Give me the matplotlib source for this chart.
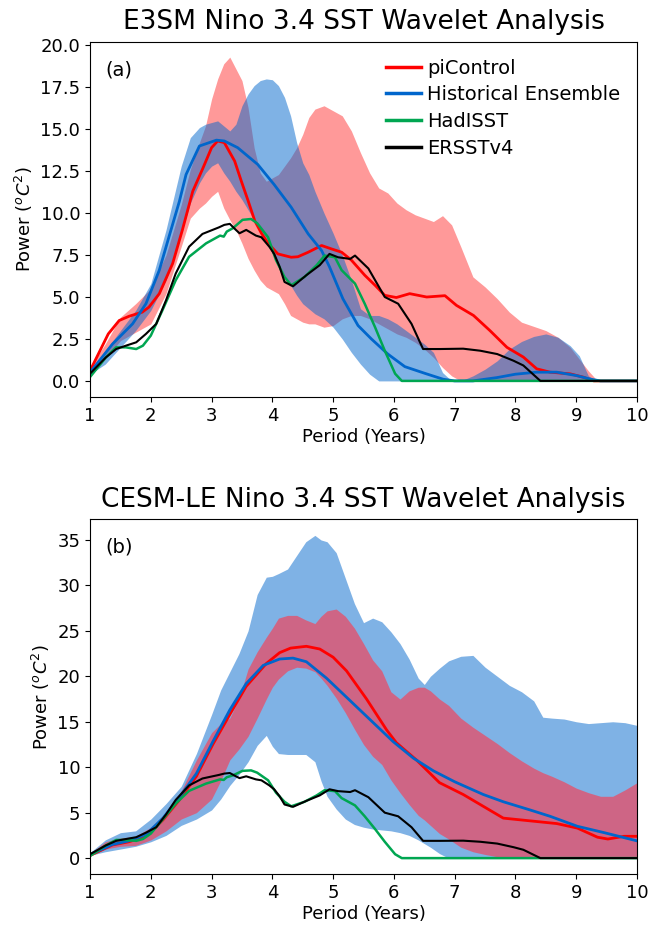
import matplotlib
matplotlib.use('Agg')
import matplotlib.pyplot as plt

# ---- observations (same in both panels) ----
had_x = [1.0, 1.26, 1.43, 1.59, 1.76, 1.87, 2.0, 2.19, 2.41, 2.63, 2.91, 3.14, 3.2, 3.25, 3.35, 3.51, 3.65,
         3.75, 3.93, 4.06, 4.2, 4.31, 4.53, 4.73, 4.86, 5.03, 5.14, 5.36, 5.52, 5.69, 5.85, 6.02, 6.13, 10.0]
had_y = [0.23, 1.4, 2.0, 2.0, 1.9, 2.1, 2.7, 4.2, 6.0, 7.4, 8.2, 8.66, 8.6, 8.9, 9.1, 9.6, 9.65,
         9.4, 8.56, 7.2, 6.2, 5.7, 6.2, 6.9, 7.47, 7.37, 6.6, 5.8, 4.6, 3.2, 1.8, 0.43, 0.0, 0.0]

ers_x = [1.0, 1.26, 1.43, 1.59, 1.76, 1.92, 2.09, 2.25, 2.41, 2.63, 2.85, 3.12, 3.21, 3.3, 3.4, 3.46, 3.57,
         3.73, 3.82, 3.95, 4.03, 4.12, 4.2, 4.34, 4.56, 4.78, 4.94, 5.08, 5.28, 5.36, 5.58, 5.85, 6.07,
         6.29, 6.48, 6.76, 7.14, 7.42, 7.7, 7.97, 8.13, 8.41, 10.0]
ers_y = [0.43, 1.4, 1.9, 2.1, 2.3, 2.8, 3.4, 4.8, 6.4, 8.0, 8.76, 9.15, 9.3, 9.36, 9.0, 8.8, 9.0,
         8.66, 8.56, 8.0, 7.57, 6.8, 5.9, 5.64, 6.3, 6.9, 7.57, 7.37, 7.27, 7.47, 6.7, 5.0, 4.6,
         3.4, 1.9, 1.9, 1.92, 1.8, 1.6, 1.2, 0.92, 0.0, 0.0]

# ---- E3SM (a) ----
e_pi_x = [1.0, 1.15, 1.3, 1.48, 1.64, 1.86, 1.97, 2.14, 2.36, 2.52, 2.69, 2.86, 3.0, 3.1, 3.21, 3.38, 3.49,
          3.6, 3.71, 3.82, 3.93, 4.09, 4.31, 4.42, 4.59, 4.81, 4.97, 5.14, 5.3, 5.52, 5.69, 5.85, 6.04,
          6.26, 6.54, 6.84, 7.03, 7.31, 7.58, 7.86, 8.13, 8.35, 8.57, 8.9, 9.12, 9.29, 10.0]
e_pi_y = [0.6, 1.7, 2.8, 3.6, 3.85, 4.1, 4.4, 5.2, 7.0, 9.0, 11.3, 12.7, 13.9, 14.3, 14.2, 13.1, 11.9,
          10.75, 9.55, 8.8, 8.2, 7.57, 7.37, 7.4, 7.67, 8.07, 7.87, 7.67, 7.2, 6.3, 5.7, 5.1, 4.97,
          5.2, 5.0, 5.08, 4.5, 3.9, 3.0, 2.0, 1.42, 0.72, 0.52, 0.42, 0.22, 0.0, 0.0]

e_hist_x = [1.0, 1.37, 1.7, 1.92, 2.14, 2.3, 2.47, 2.58, 2.8, 3.08, 3.21, 3.43, 3.76, 4.03, 4.31, 4.59,
            4.81, 4.94, 5.16, 5.41, 5.63, 5.9, 6.18, 6.51, 6.81, 7.0, 7.3, 7.7, 8.0, 8.35, 8.68, 9.0,
            9.24, 9.4, 10.0]
e_hist_y = [0.5, 2.2, 3.4, 4.6, 6.6, 8.6, 10.7, 12.3, 14.0, 14.35, 14.3, 13.9, 12.9, 11.7, 10.35, 8.76,
            7.77, 6.8, 4.9, 3.3, 2.5, 1.6, 0.85, 0.45, 0.1, 0.0, 0.0, 0.2, 0.4, 0.52, 0.52, 0.32,
            0.1, 0.0, 0.0]

e_band_x = [1.0, 1.25, 1.5, 1.75, 2.0, 2.25, 2.5, 2.65, 2.8, 2.9, 3.0, 3.1, 3.2, 3.3, 3.4, 3.5, 3.6, 3.7,
            3.8, 3.9, 4.0, 4.1, 4.2, 4.3, 4.4, 4.5, 4.6, 4.7, 4.85, 5.0, 5.15, 5.3, 5.45, 5.6, 5.75,
            5.9, 6.05, 6.2, 6.35, 6.5, 6.65, 6.8, 6.95, 7.1, 7.3, 7.5, 7.7, 7.9, 8.1, 8.3, 8.5, 8.7,
            8.9, 9.05, 9.2, 9.35, 9.5, 10.0]
e_pi_hi = [0.8, 2.2, 3.8, 4.6, 5.5, 7.5, 10.5, 12.6, 14.2, 15.2, 16.8, 18.0, 18.9, 19.3, 18.6, 17.9, 16.3,
           13.9, 12.4, 11.9, 12.1, 12.3, 12.8, 13.3, 13.9, 14.7, 15.7, 16.2, 16.4, 16.1, 15.8, 14.9,
           13.6, 12.4, 11.5, 11.2, 10.6, 10.2, 9.9, 9.7, 9.5, 9.85, 9.3, 8.0, 6.2, 5.6, 4.9, 4.1,
           3.5, 3.25, 3.0, 2.6, 2.0, 1.3, 0.6, 0.0, 0.0, 0.0]
e_pi_lo = [0.3, 1.3, 2.4, 2.9, 3.4, 5.2, 8.0, 9.7, 10.3, 10.6, 11.0, 11.3, 10.3, 9.6, 9.0, 8.2, 7.3,
           6.6, 6.0, 5.6, 5.4, 5.2, 4.6, 3.9, 3.7, 3.5, 3.4, 3.4, 3.2, 3.3, 3.7, 3.9, 3.9, 3.7, 3.4,
           3.1, 2.8, 2.6, 2.3, 1.9, 1.4, 0.8, 0.3, 0.0, 0.0, 0.0, 0.0, 0.0, 0.0, 0.0, 0.0, 0.0,
           0.0, 0.0, 0.0, 0.0, 0.0, 0.0]
e_hist_hi = [0.6, 1.8, 3.0, 4.2, 5.8, 9.0, 12.8, 14.5, 15.1, 15.3, 15.4, 15.5, 15.2, 14.9, 15.3, 16.4,
             17.1, 17.6, 17.9, 18.0, 17.95, 17.6, 16.9, 15.8, 14.2, 13.0, 12.3, 11.3, 10.0, 8.8, 7.5,
             6.0, 4.3, 3.9, 3.9, 3.7, 3.4, 3.0, 2.6, 2.2, 1.7, 0.5, 0.0, 0.0, 0.3, 0.7, 1.2, 1.9,
             2.35, 2.65, 2.8, 2.6, 2.1, 1.5, 0.3, 0.0, 0.0, 0.0]
e_hist_lo = [0.4, 1.0, 2.0, 3.0, 4.2, 6.0, 8.8, 10.6, 11.8, 12.4, 12.8, 13.0, 12.4, 11.9, 11.3, 10.8,
             10.2, 9.6, 9.0, 8.3, 7.6, 7.0, 6.3, 5.7, 5.1, 4.6, 4.3, 4.0, 3.7, 3.2, 2.5, 1.7, 1.0,
             0.4, 0.0, 0.0, 0.0, 0.0, 0.0, 0.0, 0.0, 0.0, 0.0, 0.0, 0.0, 0.0, 0.0, 0.0, 0.0, 0.0,
             0.0, 0.0, 0.0, 0.0, 0.0, 0.0, 0.0, 0.0]

# ---- CESM-LE (b) ----
c_pi_x = [1.0, 1.37, 1.64, 1.92, 2.2, 2.47, 2.75, 3.02, 3.3, 3.57, 3.9, 4.12, 4.3, 4.56, 4.78, 5.0, 5.22,
          5.55, 5.88, 6.04, 6.37, 6.75, 7.14, 7.47, 7.8, 8.24, 8.68, 9.02, 9.35, 9.52, 9.79, 10.0]
c_pi_y = [0.3, 1.45, 1.8, 2.4, 4.2, 6.4, 9.0, 12.5, 15.8, 18.9, 21.4, 22.6, 23.1, 23.3, 23.0, 22.1, 20.6,
          17.5, 14.1, 12.7, 10.8, 8.3, 7.0, 5.7, 4.4, 4.1, 3.8, 3.3, 2.3, 2.1, 2.4, 2.4]
c_hist_x = [1.0, 1.37, 1.64, 1.92, 2.2, 2.47, 2.75, 3.02, 3.3, 3.57, 3.85, 4.12, 4.34, 4.56, 4.89, 5.22,
            5.55, 5.99, 6.32, 6.65, 7.0, 7.47, 7.8, 8.24, 8.57, 9.02, 9.46, 10.0]
c_hist_y = [0.4, 1.5, 1.9, 2.6, 4.4, 6.7, 9.3, 12.8, 16.3, 19.2, 21.2, 21.9, 22.0, 21.6, 19.8, 17.7,
            15.6, 12.8, 11.0, 9.6, 8.4, 7.0, 6.2, 5.3, 4.6, 3.5, 2.8, 1.9]

c_band_x = [1.0, 1.25, 1.5, 1.75, 2.0, 2.25, 2.5, 2.75, 3.0, 3.15, 3.3, 3.45, 3.6, 3.75, 3.9, 4.0, 4.1,
            4.25, 4.4, 4.55, 4.7, 4.8, 4.9, 5.05, 5.2, 5.35, 5.5, 5.65, 5.8, 5.95, 6.1, 6.25, 6.4, 6.5,
            6.6, 6.75, 6.9, 7.1, 7.3, 7.5, 7.7, 7.9, 8.1, 8.3, 8.45, 8.6, 8.8, 9.0, 9.2, 9.4, 9.6, 9.8,
            10.0]
c_hist_hi = [0.6, 2.0, 2.8, 3.0, 4.3, 6.0, 7.9, 11.5, 15.8, 18.5, 20.5, 22.5, 25.0, 29.0, 30.9, 31.0, 31.3,
             31.8, 33.3, 34.8, 35.5, 35.0, 34.8, 33.6, 30.8, 28.0, 25.9, 26.4, 26.0, 24.9, 23.6, 21.9,
             19.8, 19.1, 20.0, 20.9, 21.7, 22.2, 22.3, 21.0, 20.0, 19.0, 18.3, 17.3, 15.5, 15.4, 15.3,
             15.0, 14.8, 14.9, 15.0, 14.9, 14.6]
c_hist_lo = [0.3, 0.7, 1.0, 1.3, 1.8, 2.5, 3.6, 4.3, 5.3, 6.5, 8.0, 9.2, 10.6, 12.4, 13.5, 12.3, 11.5,
             11.4, 11.4, 11.4, 10.6, 8.5, 6.8, 5.4, 4.3, 3.7, 3.4, 3.2, 3.1, 3.0, 2.8, 2.5, 2.0, 1.6,
             1.2, 0.5, 0.0, 0.0, 0.0, 0.0, 0.0, 0.0, 0.0, 0.0, 0.0, 0.0, 0.0, 0.0, 0.0, 0.0, 0.0,
             0.0, 0.0]
c_pi_hi = [0.5, 1.8, 2.2, 2.4, 3.4, 5.0, 7.4, 10.8, 13.8, 14.8, 15.4, 17.5, 20.8, 22.7, 24.3, 25.3, 26.4,
           26.7, 26.7, 26.2, 25.8, 26.6, 27.2, 27.4, 26.6, 25.3, 23.6, 21.8, 20.6, 18.3, 17.5, 18.4,
           18.8, 18.8, 18.4, 17.5, 16.8, 15.4, 14.4, 13.5, 12.6, 11.6, 10.7, 9.9, 9.4, 9.0, 8.4, 7.7,
           7.2, 6.8, 6.8, 7.5, 8.3]
c_pi_lo = [0.2, 1.0, 1.3, 1.4, 2.0, 3.0, 4.3, 5.0, 6.5, 8.5, 10.8, 12.0, 13.4, 15.4, 17.5, 18.8, 19.7,
           20.6, 21.0, 20.9, 20.5, 19.8, 19.0, 17.6, 16.0, 14.2, 12.5, 11.2, 10.3, 8.6, 7.2, 5.9, 4.7,
           4.2, 3.6, 2.7, 2.1, 1.2, 0.7, 0.4, 0.15, 0.0, 0.0, 0.0, 0.0, 0.0, 0.0, 0.0, 0.0, 0.0, 0.0,
           0.0, 0.0]

red = '#FF0000'
blue = '#0066CC'
green = '#00A651'

fig = plt.figure(figsize=(6.5, 9.25), dpi=100)
ax1 = fig.add_axes([0.1385, 0.5708, 0.8415, 0.3838])
ax2 = fig.add_axes([0.1385, 0.0551, 0.8415, 0.3838])

# (a) E3SM: red band under blue band
ax1.fill_between(e_band_x, e_pi_lo, e_pi_hi, color=red, alpha=0.4, lw=0)
ax1.fill_between(e_band_x, e_hist_lo, e_hist_hi, color=blue, alpha=0.5, lw=0)
ax1.plot(e_pi_x, e_pi_y, color=red, lw=2, label='piControl')
ax1.plot(e_hist_x, e_hist_y, color=blue, lw=2, label='Historical Ensemble')
ax1.plot(had_x, had_y, color=green, lw=1.8, label='HadISST')
ax1.plot(ers_x, ers_y, color='black', lw=1.5, label='ERSSTv4')
ax1.set_xlim(1, 10)
ax1.set_ylim(-0.96, 20.2)
ax1.set_yticks([0, 2.5, 5, 7.5, 10, 12.5, 15, 17.5, 20])
ax1.set_yticklabels(['0.0', '2.5', '5.0', '7.5', '10.0', '12.5', '15.0', '17.5', '20.0'])
ax1.set_xticks(range(1, 11))
ax1.tick_params(labelsize=13)
ax1.set_title('E3SM Nino 3.4 SST Wavelet Analysis', fontsize=19, pad=9)
ax1.set_xlabel('Period (Years)', fontsize=13, labelpad=2)
ax1.set_ylabel(r'Power ($^oC^2$)', fontsize=13)
ax1.text(0.028, 0.92, '(a)', transform=ax1.transAxes, fontsize=14, va='center', ha='left')
leg = ax1.legend(loc='upper right', frameon=False, fontsize=14, handlelength=1.8, handletextpad=0.35,
                 borderaxespad=0.45, labelspacing=0.4)
for h in leg.get_lines():
    h.set_linewidth(2.5)

# (b) CESM-LE: blue band under red band
ax2.fill_between(c_band_x, c_hist_lo, c_hist_hi, color=blue, alpha=0.5, lw=0)
ax2.fill_between(c_band_x, c_pi_lo, c_pi_hi, color='#FF374B', alpha=0.62, lw=0)
ax2.plot(c_pi_x, c_pi_y, color=red, lw=2)
ax2.plot(c_hist_x, c_hist_y, color=blue, lw=2)
ax2.plot(had_x, had_y, color=green, lw=1.8)
ax2.plot(ers_x, ers_y, color='black', lw=1.5)
ax2.set_xlim(1, 10)
ax2.set_ylim(-1.75, 37.3)
ax2.set_yticks([0, 5, 10, 15, 20, 25, 30, 35])
ax2.set_xticks(range(1, 11))
ax2.tick_params(labelsize=13)
ax2.set_title('CESM-LE Nino 3.4 SST Wavelet Analysis', fontsize=19, pad=9)
ax2.set_xlabel('Period (Years)', fontsize=13, labelpad=2)
ax2.set_ylabel(r'Power ($^oC^2$)', fontsize=13)
ax2.text(0.028, 0.92, '(b)', transform=ax2.transAxes, fontsize=14, va='center', ha='left')

fig.savefig('out.png', dpi=100)
